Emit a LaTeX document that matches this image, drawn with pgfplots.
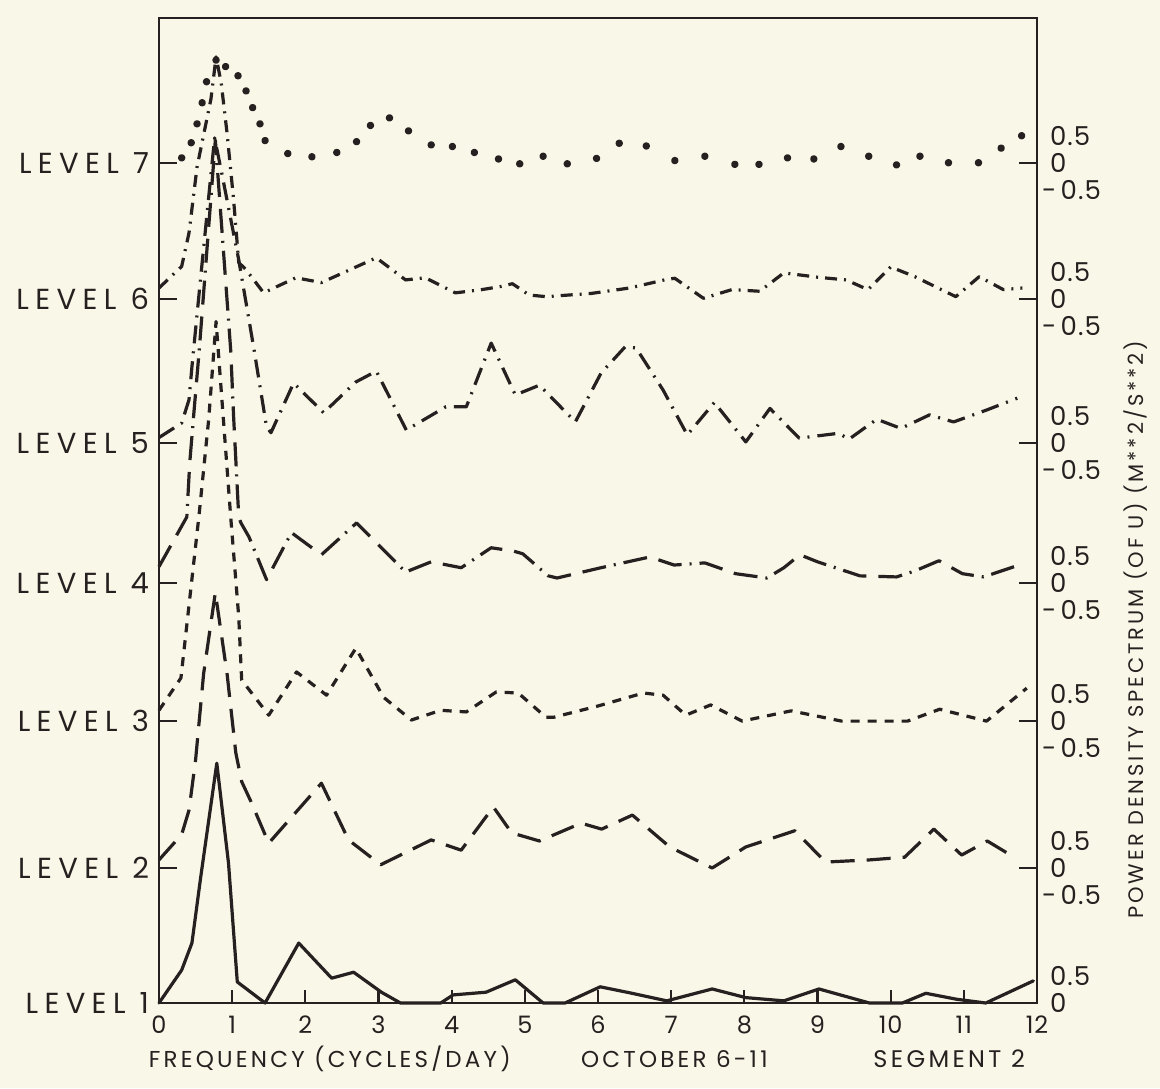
\documentclass[border=0pt]{standalone}
\usepackage{fontspec}
\setmainfont{Poppins}[LetterSpace=12]
\newfontfamily\lvlfont{Poppins}[LetterSpace=22]
\newfontfamily\numfont{Poppins}[LetterSpace=4]
\newfontfamily\txtfont{Poppins}[LetterSpace=14]
\usepackage{pgfplots}
\usepackage{pgfplotstable}
\pgfplotsset{compat=1.18}
\definecolor{ink}{RGB}{38,33,32}
\definecolor{paper}{RGB}{249,247,232}

\pgfplotstableread{
f v
0 0
0.31 0.61
0.45 1.11
0.57 2.33
0.79 4.44
0.95 2.59
1.07 0.39
1.45 0
1.91 1.11
2.36 0.46
2.66 0.57
3.04 0.2
3.3 0
3.85 0
4.02 0.15
4.47 0.2
4.87 0.43
5.25 0
5.55 0
6.03 0.3
6.43 0.19
6.94 0.04
7.56 0.26
8.02 0.1
8.54 0.04
9.02 0.26
9.71 0
10.16 0
10.48 0.18
10.9 0.07
11.3 0
11.95 0.41
}\levelA

\pgfplotstableread{
f v
0 0.15
0.31 0.62
0.41 1.07
0.5 2.0
0.61 3.6
0.77 5.1
0.93 3.6
1.05 2.13
1.13 1.6
1.25 1.25
1.5 0.46
2.22 1.57
2.59 0.52
3.03 0.06
3.72 0.52
4.13 0.33
4.57 1.13
4.82 0.65
5.2 0.5
5.77 0.83
6.05 0.72
6.47 0.98
6.98 0.39
7.56 0
8.02 0.39
8.69 0.69
9.11 0.11
9.71 0.15
10.19 0.2
10.59 0.72
10.97 0.24
11.32 0.5
11.7 0.19
}\levelB

\pgfplotstableread{
f v
0 0.2
0.3 0.8
0.55 3.85
0.68 5.6
0.78 7.4
0.98 3.78
1.09 1.93
1.13 0.76
1.5 0.11
1.88 0.91
2.29 0.48
2.69 1.35
3.07 0.44
3.45 0.02
3.85 0.2
4.2 0.17
4.61 0.54
4.91 0.52
5.29 0.07
5.39 0.07
6.0 0.28
6.62 0.52
6.89 0.48
7.2 0.11
7.54 0.3
7.97 0
8.64 0.19
9.33 0
10.23 0
10.67 0.22
11.31 0
11.86 0.61
}\levelC

\pgfplotstableread{
f v
0 0.3
0.38 1.22
0.42 2.22
0.48 3.2
0.55 4.31
0.77 8.2
0.98 4.31
1.02 3.07
1.09 1.22
1.12 1.11
1.23 0.85
1.47 0.06
1.81 0.93
2.22 0.52
2.7 1.11
3.37 0.2
3.72 0.39
4.13 0.28
4.54 0.65
4.84 0.59
4.97 0.54
5.32 0.13
5.44 0.09
6.04 0.28
6.71 0.48
7.04 0.33
7.46 0.37
7.88 0.17
8.31 0.09
8.54 0.28
8.76 0.52
9.0 0.39
9.58 0.13
10.08 0.11
10.33 0.22
10.66 0.41
10.98 0.17
11.27 0.11
11.71 0.31
}\levelD

\pgfplotstableread{
f v
0 0.1
0.31 0.37
0.41 0.8
0.45 1.41
0.57 3.07
0.76 5.65
0.85 5.05
1.09 3.39
1.3 1.72
1.47 0.3
1.53 0.19
1.84 1.11
2.25 0.56
2.69 1.13
2.97 1.33
3.38 0.24
3.92 0.67
4.2 0.67
4.54 1.85
4.87 0.89
5.2 1.07
5.69 0.39
6.04 1.29
6.37 1.78
6.52 1.76
6.89 0.98
7.22 0.15
7.59 0.75
8.02 0.02
8.35 0.64
8.75 0.09
9.29 0.18
9.43 0.07
9.81 0.44
10.14 0.27
10.53 0.52
10.86 0.39
11.31 0.61
11.73 0.83
}\levelE

\pgfplotstableread{
f v
0.0 0.2
0.31 0.6
0.41 1.22
0.52 2.44
0.71 3.7
0.78 4.48
0.85 4.0
0.93 3.07
1.02 1.83
1.09 0.67
1.19 0.54
1.43 0.11
1.57 0.2
1.87 0.39
2.22 0.3
2.97 0.76
3.37 0.35
3.64 0.39
4.05 0.11
4.41 0.17
4.68 0.23
4.83 0.28
5.06 0.07
5.29 0.04
5.91 0.1
6.43 0.2
6.94 0.36
7.05 0.38
7.44 0.01
7.83 0.17
8.21 0.14
8.54 0.48
9.0 0.4
9.39 0.35
9.69 0.17
10.0 0.59
10.33 0.41
10.89 0.04
11.21 0.41
11.54 0.17
11.8 0.2
}\levelF

\pgfplotstableread{
f v
0.31 0.09
0.44 0.37
0.52 0.72
0.59 1.11
0.65 1.5
0.78 1.9
0.91 1.78
1.08 1.61
1.19 1.33
1.28 1.02
1.38 0.72
1.45 0.41
1.76 0.17
2.09 0.11
2.43 0.19
2.7 0.39
2.89 0.69
3.15 0.83
3.41 0.59
3.72 0.33
4.01 0.3
4.31 0.19
4.64 0.07
4.93 -0.02
5.25 0.12
5.58 -0.02
5.98 0.08
6.29 0.36
6.66 0.31
7.05 0.04
7.46 0.12
7.87 -0.03
8.2 -0.03
8.59 0.09
8.95 0.07
9.32 0.3
9.7 0.12
10.08 -0.04
10.4 0.12
10.79 0
11.2 0
11.51 0.27
11.79 0.5
}\levelG

\begin{document}
\begin{tikzpicture}
\fill[paper] (-79.5pt,-42.5pt) rectangle (500.5pt,501.5pt);
\begin{axis}[name=main, scale only axis, width=439pt, height=492.5pt,
  at={(0,0)}, anchor=south west,
  xmin=0, xmax=12, ymin=0, ymax=18.24, clip=false,
  axis line style={ink, line width=1.4pt},
  xtick={0,1,...,12}, xticklabels={0,1,2,3,4,5,6,7,8,9,10,11,12},
  xtick pos=bottom, xtick align=inside,
  x tick style={ink, line width=1.1pt, /pgfplots/major tick length=6.5pt},
  ytick={0,2.5,5.22,7.78,10.37,13.04,15.56},
  yticklabels={LEVEL 1,LEVEL 2,LEVEL 3,LEVEL 4,LEVEL 5,LEVEL 6,LEVEL 7},
  ytick pos=both, yticklabel pos=left, ytick align=inside,
  y tick style={ink, line width=1.1pt, /pgfplots/major tick length=9pt},
  xticklabel style={ink, font=\numfont\fontsize{12}{13}\selectfont, yshift=-3pt},
  yticklabel style={ink, font=\lvlfont\fontsize{14.5}{16}\selectfont, xshift=-1.5pt},
  every axis plot/.append style={ink, line width=1.6pt, line join=round},
]
\addplot[line cap=round] table[x=f, y expr=\thisrow{v}+0] {\levelA};
\addplot[dash pattern=on 12pt off 6pt] table[x=f, y expr=\thisrow{v}+2.5] {\levelB};
\addplot[dash pattern=on 4.5pt off 4pt] table[x=f, y expr=\thisrow{v}+5.22] {\levelC};
\addplot[dash pattern=on 12pt off 6pt on 12pt off 4pt on 1pt off 4pt] table[x=f, y expr=\thisrow{v}+7.78] {\levelD};
\addplot[dash pattern=on 9pt off 4pt on 1pt off 4pt] table[x=f, y expr=\thisrow{v}+10.37] {\levelE};
\addplot[dash pattern=on 6pt off 3.5pt on 1pt off 3.5pt] table[x=f, y expr=\thisrow{v}+13.04] {\levelF};
\addplot[only marks, mark=*, mark size=1.05pt, mark options={ink, fill=ink}] table[x=f, y expr=\thisrow{v}+15.56] {\levelG};

\node[ink, font=\txtfont\fontsize{11.5}{13}\selectfont] at (axis description cs:0.1945,-0.057) {FREQUENCY (CYCLES/DAY)};
\node[ink, font=\txtfont\fontsize{11.5}{13}\selectfont] at (axis description cs:0.587,-0.057) {OCTOBER 6-11};
\node[ink, font=\txtfont\fontsize{12}{13}\selectfont] at (axis description cs:0.9,-0.057) {SEGMENT 2};
\node[ink, rotate=90, font=\txtfont\fontsize{10.5}{12}\selectfont] at (axis description cs:1.112,0.379) {POWER DENSITY SPECTRUM (OF U) (M**2/S**2)};
\end{axis}
\begin{axis}[scale only axis, width=439pt, height=492.5pt,
  at={(0,0)}, anchor=south west,
  xmin=0, xmax=12, ymin=0, ymax=18.24,
  hide x axis, axis y line*=right, y axis line style={draw=none},
  major tick length=0pt,
  ytick={0,0.5,2.5,3.0,5.22,5.72,7.78,8.28,10.37,10.87,13.04,13.54,15.56,16.06},
  yticklabels={0,0.5,0,0.5,0,0.5,0,0.5,0,0.5,0,0.5,0,0.5},
  yticklabel style={ink, font=\numfont\fontsize{13}{14}\selectfont, anchor=west, xshift=3pt},
]
\end{axis}
\begin{axis}[scale only axis, width=439pt, height=492.5pt,
  at={(0,0)}, anchor=south west,
  xmin=0, xmax=12, ymin=0, ymax=18.24,
  hide x axis, axis y line*=right, y axis line style={draw=none},
  major tick length=0pt,
  ytick={2.0,4.72,7.28,9.87,12.54,15.06},
  yticklabels={\mbox{-}\,0.5,\mbox{-}\,0.5,\mbox{-}\,0.5,\mbox{-}\,0.5,\mbox{-}\,0.5,\mbox{-}\,0.5},
  yticklabel style={ink, font=\numfont\fontsize{13}{14}\selectfont, anchor=west, xshift=-1pt},
]
\end{axis}
\end{tikzpicture}
\end{document}
